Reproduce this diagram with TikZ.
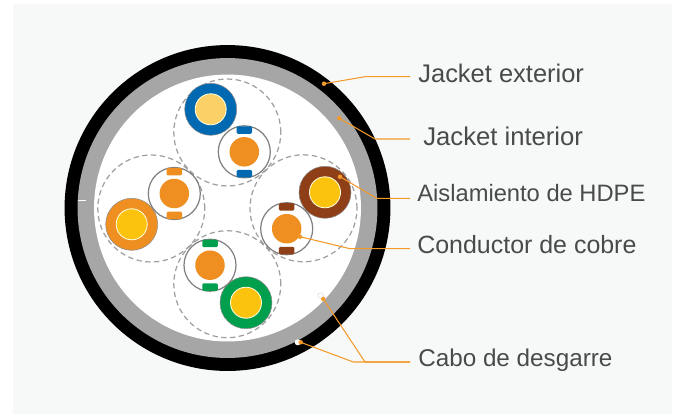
\documentclass[tikz,border=0pt]{standalone}
\usepackage{fontspec}
\setmainfont{Liberation Sans}
\definecolor{panelGray}{HTML}{F7F9F9}
\definecolor{ringGray}{HTML}{A6A6A6}
\definecolor{leaderOrange}{HTML}{F39A2B}
\definecolor{coreOrange}{HTML}{EF8F22}
\definecolor{coreYellow}{HTML}{FBC20E}
\definecolor{palYellow}{HTML}{FBD066}
\definecolor{cableBlue}{HTML}{0069B1}
\definecolor{cableBrown}{HTML}{8E3F17}
\definecolor{cableGreen}{HTML}{009F4D}
\definecolor{textGray}{HTML}{4A4A4A}

\begin{document}
\begin{tikzpicture}
[x=0.02cm,y=-0.02cm,%
  ringDecorate/.style={shape=circle,inner sep=0pt,minimum size=#1*0.04cm},
  groupDecorate/.style={shape=circle,inner sep=0pt,minimum size=107*0.02cm,draw=gray!75,densely dashed,line width=0.7pt},
  insulDecorate/.style={shape=circle,inner sep=0pt,minimum size=52*0.02cm,draw=gray!90,line width=0.3pt},
  coreDecorate/.style={shape=circle,inner sep=0pt,minimum size=31*0.02cm,draw=white!85!yellow,line width=0.5pt},
  pairDecorate/.style={shape=circle,inner sep=0pt,minimum size=52*0.02cm,draw=gray,line width=0.7pt,fill=white},
  wireDecorate/.style={shape=circle,inner sep=0pt,minimum size=29.5*0.02cm,fill=coreOrange},
  tabDecorate/.style={shape=rectangle,rounded corners=0.8pt,inner sep=0pt,minimum width=15.5*0.02cm,minimum height=7.5*0.02cm},
  dotDecorate/.style={shape=circle,inner sep=0pt,minimum size=4.5*0.02cm,fill=leaderOrange},
  ripDecorate/.style={shape=circle,inner sep=0pt,minimum size=6*0.02cm,fill=white},
  lineDecorate/.style={-,draw=leaderOrange,line width=0.6pt},
  labelDecorate/.style={anchor=base west,inner ysep=0pt,text=textGray}]
\useasboundingbox (0,0) rectangle (677,414);
\fill[white] (0,0) rectangle (677,414);
\fill[panelGray] (13,4) rectangle (672,414);
%% cable sheath
\node (jacketOut) at (227.5,208) [ringDecorate=163,fill=black] {};
\node (jacketIn) at (227.5,208) [ringDecorate=150,fill=ringGray] {};
\node (filler) at (227.5,208) [ringDecorate=133.5,fill=white] {};
\fill[white] (78,199.5) rectangle (86,200.5);
%% dashed groups
\foreach \nodename/\x/\y in {
  groupBlue/227.3/132.5, groupBrown/303.5/208.3,
  groupOrange/151.3/208.5, groupGreen/227.3/284.2}
{
  \node (\nodename) at (\x,\y) [groupDecorate] {};
}
%% insulated conductors
\foreach \nodename/\x/\y/\col/\corecol in {
  Blue/210.7/109.3/cableBlue/palYellow, Brown/325/192.3/cableBrown/coreYellow,
  Orange/131.7/224.3/coreOrange/coreYellow, Green/246/302.7/cableGreen/coreYellow}
{
  \node (insul\nodename) at (\x,\y) [insulDecorate,fill=\col] {};
  \node (core\nodename) at (\x,\y) [coreDecorate,fill=\corecol] {};
}
%% twisted pairs with their tabs
\foreach \nodename/\x/\y/\col in {
  Blue/244.3/151.8/cableBlue, Brown/286.7/228.7/cableBrown,
  Orange/174.3/193.5/coreOrange, Green/210/265.2/cableGreen}
{
  \node (pair\nodename) at (\x,\y) [pairDecorate] {};
  \node (wire\nodename) at (\x,\y) [wireDecorate] {};
  \node (tabTop\nodename) at (\x,\y-21.8) [tabDecorate,fill=\col] {};
  \node (tabBot\nodename) at (\x,\y+21.8) [tabDecorate,fill=\col] {};
}
%% rip cords
\node (ripOne) at (320.7,295.7) [ripDecorate,draw=gray!30,line width=0.3pt] {};
\node (ripTwo) at (297.7,342.3) [ripDecorate] {};
%% leader dots and bends
\foreach \nodename/\x/\y in {
  dotExterior/324/83.7, dotInterior/339.3/118.3, dotHdpe/340/176.7,
  dotCobre/300/236.7, dotRipOne/323.3/299, dotRipTwo/300.7/342.3}
{
  \node (\nodename) at (\x,\y) [dotDecorate] {};
}
\foreach \nodename/\x/\y in {
  bendExterior/365/76.7, bendInterior/375/139, bendHdpe/376.7/198.3,
  bendCobre/350/248.7, bendRipOne/365/362, bendRipTwo/353.3/362}
{
  \coordinate (\nodename) at (\x,\y);
}
%% labels
\foreach \nodename/\y/\gap/\size/\txt in {
  labelExterior/82/8/14.5/Jacket exterior, labelInterior/145/13/14.6/Jacket interior,
  labelHdpe/201/7/13.5/Aislamiento de HDPE, labelCobre/253.3/7/14.2/Conductor de cobre,
  labelCabo/366/8/13.8/Cabo de desgarre}
{
  \node (\nodename) at (410,\y) [labelDecorate,inner xsep=\gap*0.02cm,font=\fontsize{\size}{17}\selectfont] {\txt};
}
%% leaders
\draw[lineDecorate] (dotExterior.center) -- (bendExterior) -- (bendExterior -| labelExterior.west);
\draw[lineDecorate] (dotInterior.center) -- (bendInterior) -- (bendInterior -| labelInterior.west);
\draw[lineDecorate] (dotHdpe.center) -- (bendHdpe) -- (bendHdpe -| labelHdpe.west);
\draw[lineDecorate] (dotCobre.center) -- (bendCobre) -- (bendCobre -| labelCobre.west);
\draw[lineDecorate] (dotRipOne.center) -- (bendRipOne) -- (bendRipOne -| labelCabo.west);
\draw[lineDecorate] (dotRipTwo.center) -- (bendRipTwo) -- (bendRipTwo -| labelCabo.west);
\end{tikzpicture}
\end{document}
